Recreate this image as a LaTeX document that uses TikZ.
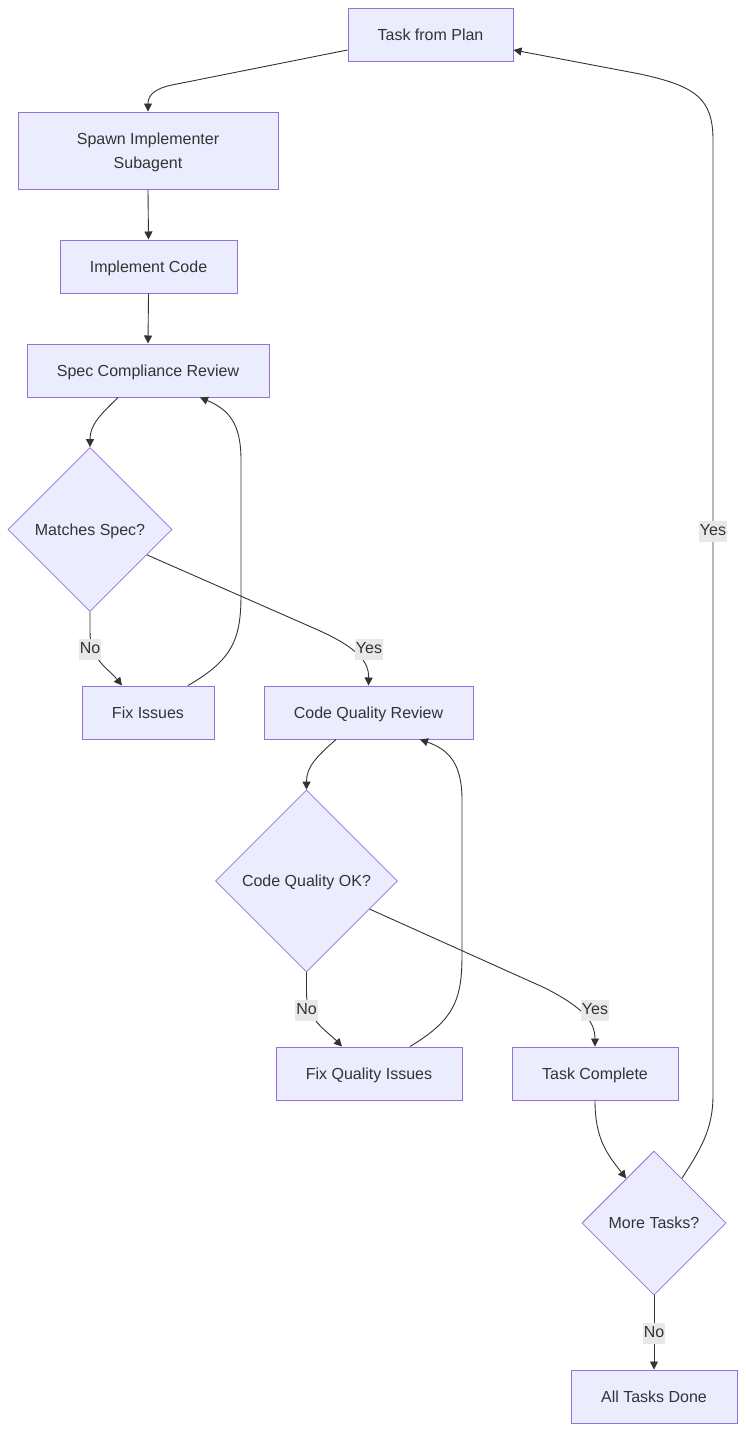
\documentclass[tikz,border=0pt]{standalone}
\usepackage{fontspec}
\setmainfont{Liberation Sans}
\usetikzlibrary{shapes.geometric,arrows.meta}
\definecolor{nodefill}{HTML}{ECECFF}
\definecolor{nodeline}{HTML}{9370DB}
\definecolor{ink}{HTML}{333333}
\definecolor{lblbg}{HTML}{E8E8E8}
\begin{document}
\begin{tikzpicture}[x=1pt,y=-1pt,
  font=\fontsize{16}{24}\selectfont, text=ink,
  box/.style={draw=nodeline, fill=nodefill, line width=1pt, rectangle, minimum height=53pt, inner sep=0pt, align=center, text height=11.5pt, text depth=0pt},
  decision/.style={draw=nodeline, fill=nodefill, line width=0.8pt, diamond, shape aspect=1, inner sep=0pt, text height=11.5pt, text depth=0pt},
  flow/.style={draw=ink, line width=0.9pt, -{Triangle[length=8pt,width=8pt]}},
  lbl/.style={fill=lblbg, inner xsep=1pt, inner ysep=2pt, text=ink, text height=13pt, text depth=4pt}]
\useasboundingbox (0,0) rectangle (745,1432);

\node[box, minimum width=165pt] (task) at (430.5,34.5) {Task from Plan};
\node[box, minimum width=260pt, minimum height=77pt, text height=35.5pt] (spawn) at (148,150.5) {Spawn Implementer\\Subagent};
\node[box, minimum width=177pt] (impl) at (148.5,266.5) {Implement Code};
\node[box, minimum width=242pt] (spec) at (148,370.5) {Spec Compliance Review};
\node[decision, minimum width=164pt, minimum height=164pt] (match) at (90,529.5) {Matches Spec?};
\node[box, minimum width=132pt] (fix) at (148,712.5) {Fix Issues};
\node[box, minimum width=209pt] (cqr) at (368.5,712.5) {Code Quality Review};
\node[decision, minimum width=182pt, minimum height=182pt] (cqok) at (306.5,881) {Code Quality OK?};
\node[box, minimum width=186pt] (fqi) at (369,1073.5) {Fix Quality Issues};
\node[box, minimum width=166pt] (tc) at (595,1073.5) {Task Complete};
\node[decision, minimum width=144pt, minimum height=144pt] (more) at (654,1223) {More Tasks?};
\node[box, minimum width=166pt] (all) at (654,1396.5) {All Tasks Done};

% edges
\draw[flow] ([yshift=-15.5pt]task.west) -- (172,85) .. controls (155,88.5) and (148,95) .. (spawn.north);
\draw[flow] (spawn.south) -- (impl.north);
\draw[flow] (impl.south) -- (spec.north);
\draw[flow] ([xshift=-30pt]spec.south) .. controls (100,415) and (90,425) .. (match.north);
\draw[flow] (match.south) -- (90,632) .. controls (90,660) and (108,668) .. ([xshift=-26pt]fix.north);
\draw[flow] ([xshift=40pt]fix.north) .. controls (232,660) and (241,640) .. (241,595) -- (241,460) .. controls (241,425) and (230,410) .. ([xshift=52pt]spec.south);
\draw[flow] (match.-24.6) -- (318,630) .. controls (358,648) and (369,662) .. (cqr.north);
\draw[flow] ([xshift=-32.5pt]cqr.south) .. controls (316,757) and (306.5,767) .. (cqok.north);
\draw[flow] (cqok.south) -- (306.5,993) .. controls (306.5,1020) and (326,1030) .. ([xshift=-27pt]fqi.north);
\draw[flow] ([xshift=41pt]fqi.north) .. controls (454,1020) and (462,1000) .. (462,955) -- (462,800) .. controls (462,765) and (450,750) .. ([xshift=51.5pt]cqr.south);
\draw[flow] (cqok.-24.5) -- (545,988) .. controls (584,1008) and (595,1022) .. (tc.north);
\draw[flow] (tc.south) .. controls (595,1140) and (608,1155) .. (more.122.5);
\draw[flow] (more.58.7) .. controls (700,1150) and (713,1130) .. (713,1095) -- (713,140) .. controls (713,98) and (695,86) .. (640,74) -- ([yshift=-15.5pt]task.east);
\draw[flow] (more.south) -- (all.north);

% labels
\node[lbl] (l1) at (90,649) {No};
\node[lbl] (l2) at (369,649) {Yes};
\node[lbl] (l3) at (306.5,1010) {No};
\node[lbl] (l4) at (595,1010) {Yes};
\node[lbl] (l5) at (713,531) {Yes};
\node[lbl] (l6) at (654,1333) {No};
\end{tikzpicture}
\end{document}
